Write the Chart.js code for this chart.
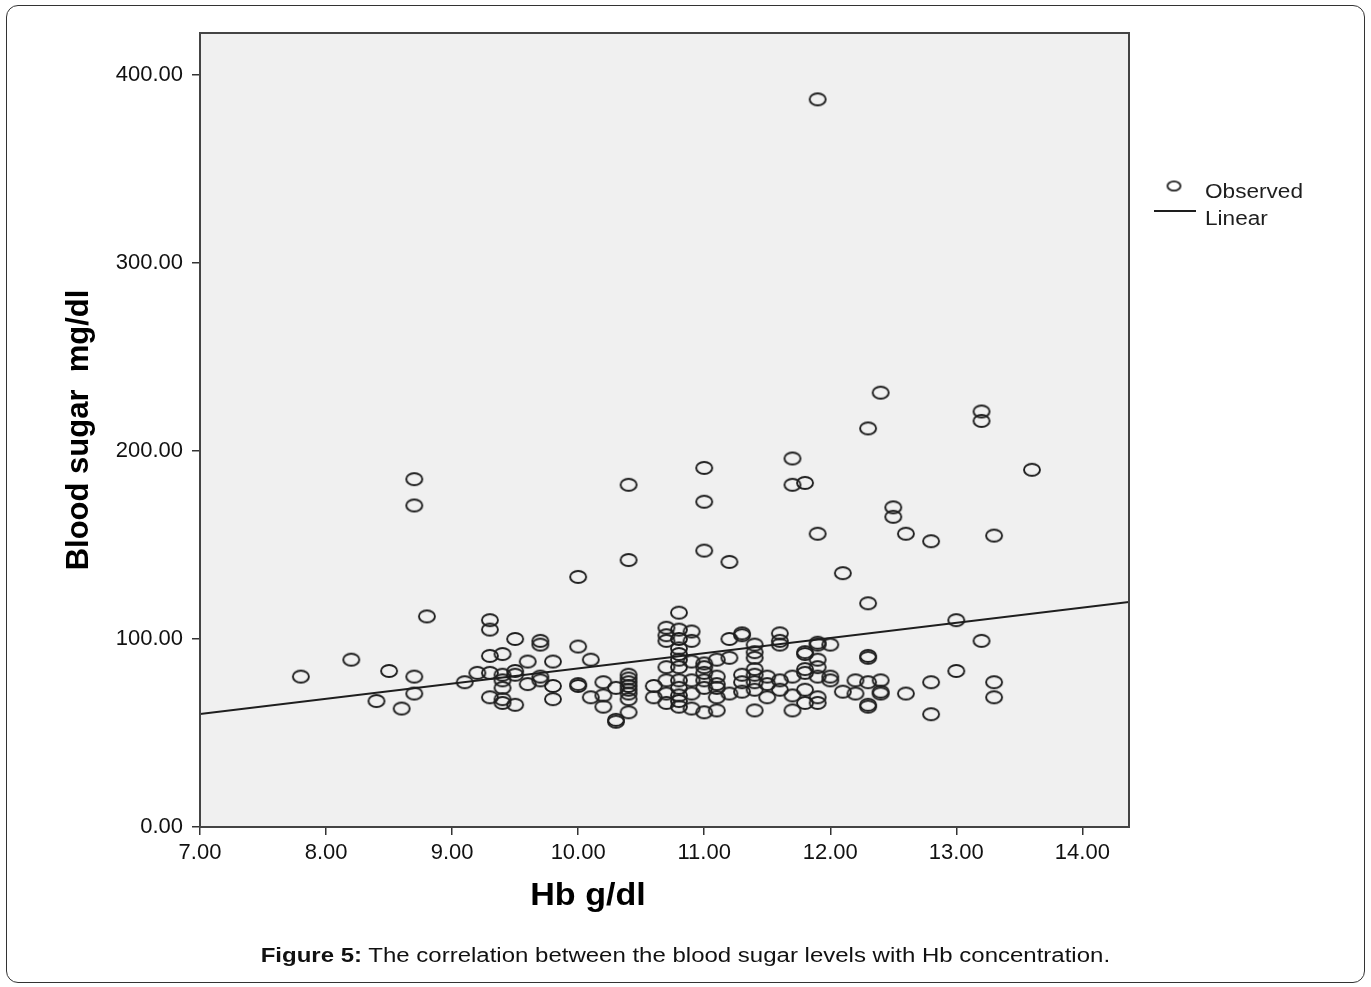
<!DOCTYPE html>
<html>
<head>
<meta charset="utf-8">
<title>Blood sugar vs Hb</title>
<script src="https://cdn.jsdelivr.net/npm/chart.js@4/dist/chart.umd.min.js"></script>
<style>
  html, body { margin: 0; padding: 0; background: #fff; }
  #wrap { position: relative; width: 1371px; height: 987px; }
  #frame {
    position: absolute; left: 6px; top: 5px; width: 1357px; height: 976px;
    border: 1px solid #333; border-radius: 12px; pointer-events: none;
  }
  #chart { position: absolute; left: 0; top: 0; }
  #caption {
    position: absolute; left: 0; top: 944px; width: 1371px; text-align: center;
    font: 20px "Liberation Sans", Arial, sans-serif; color: #111;
    transform: scaleX(1.2); transform-origin: 686px 0;
  }
</style>
</head>
<body>
<div id="wrap">
  <canvas id="chart" width="1371" height="987"></canvas>
  <div id="frame"></div>
  <div id="caption"><b>Figure 5:</b> The correlation between the blood sugar levels with Hb concentration.</div>
</div>
<script>
// Hb (g/dl) and blood sugar (mg/dl) for each subject
const hb = [
  11.9, 12.4, 13.2, 13.2, 12.3, 13.6, 8.7, 8.7, 10.4, 11.0,
  11.0, 11.7, 11.7, 11.8, 12.5, 12.5, 11.9, 12.6, 12.8, 13.3,
  11.0, 11.2, 10.4, 10.0, 12.1, 12.3, 8.8, 9.3, 9.3, 13.0,
  10.8, 13.2,
  7.8, 8.2, 8.5, 8.7, 8.4, 8.7, 8.6, 9.1, 9.2, 9.3,
  9.3, 9.4, 9.5, 9.7, 9.7, 10.0, 9.6, 9.8, 9.4, 9.4,
  9.5, 9.5, 9.7, 9.7, 9.6, 9.8, 10.0, 9.4, 9.3, 9.4,
  9.4, 9.5, 9.8, 10.1, 10.1,
  10.3, 10.2, 10.4, 10.4, 10.4, 10.4, 10.4, 10.4, 10.4, 10.2,
  10.2, 10.3, 10.4, 10.3, 10.0,
  10.6, 10.6, 10.7, 10.7, 10.7, 10.7, 10.8, 10.8, 10.9, 10.9,
  10.8, 10.8, 10.8, 10.7, 10.8, 10.7, 10.8, 10.8, 10.8, 10.8,
  10.9, 10.9, 10.9, 10.9, 10.7, 10.8,
  11.0, 11.0, 11.1, 11.2, 11.2, 11.3, 11.3, 11.4, 11.4, 11.4,
  11.6, 11.6, 11.6, 11.8, 11.9, 11.0, 11.0, 11.0, 11.0, 11.1,
  11.1, 11.1, 11.1, 11.1, 11.2, 11.3, 11.3, 11.3, 11.4, 11.4,
  11.4, 11.4, 11.4, 11.5, 11.5, 11.5, 11.6, 11.6, 11.7, 11.7,
  11.7, 11.8, 11.8, 11.9, 11.9,
  12.3, 12.3, 12.0, 11.9, 11.8, 11.9, 11.8, 12.0, 12.0, 12.2,
  12.4, 12.3, 12.1, 12.2, 12.4, 12.4, 12.3, 12.3, 11.8, 11.9,
  11.9, 12.6, 12.8, 12.8, 13.0, 13.3, 13.3
];
const sugar = [
  387, 231, 221, 216, 212, 190, 185, 171, 182, 191,
  173, 196, 182, 183, 170, 165, 156, 156, 152, 155,
  147, 141, 142, 133, 135, 119, 112, 110, 105, 110,
  114, 99,
  80, 89, 83, 80, 67, 71, 63, 77, 82, 82,
  91, 92, 100, 99, 97, 96, 88, 88, 81, 78,
  83, 81, 80, 78, 76, 75, 75, 74, 69, 68,
  66, 65, 68, 89, 69,
  74, 77, 81, 79, 77, 75, 73, 71, 68, 70,
  64, 56, 61, 57, 76,
  75, 69, 71, 106, 102, 99, 105, 100, 104, 99,
  95, 92, 89, 85, 85, 78, 78, 74, 70, 64,
  88, 78, 71, 63, 66, 67,
  87, 85, 89, 90, 100, 103, 102, 97, 93, 90,
  103, 99, 97, 93, 98, 82, 78, 74, 61, 80,
  76, 74, 62, 69, 71, 81, 77, 72, 84, 81,
  77, 73, 62, 80, 76, 69, 78, 73, 80, 70,
  62, 84, 73, 89, 80,
  91, 90, 97, 97, 92, 85, 82, 80, 78, 78,
  78, 77, 72, 71, 72, 71, 65, 64, 66, 69,
  66, 71, 77, 60, 83, 77, 69
];

// fitted linear model: sugar = INTERCEPT + SLOPE * hb
const INTERCEPT = 3.5;
const SLOPE = 8.08;

const X_MIN = 7, X_MAX = 14.37;
const Y_MIN = 0, Y_MAX = 422.3;

const FONT = '"Liberation Sans", Arial, sans-serif';
const INK = '#1e1e1e';

// open ellipse used as the marker
function ringMarker(rx, ry, lw) {
  const c = document.createElement('canvas');
  c.width = Math.ceil(rx * 2 + lw * 2 + 2);
  c.height = Math.ceil(ry * 2 + lw * 2 + 2);
  const g = c.getContext('2d');
  g.strokeStyle = INK;
  g.lineWidth = lw;
  g.beginPath();
  g.ellipse(c.width / 2, c.height / 2, rx, ry, 0, 0, Math.PI * 2);
  g.stroke();
  return c;
}
const ring = ringMarker(8, 6, 1.9);
const smallRing = ringMarker(6.5, 4.6, 1.8);

const observed = hb.map((h, i) => ({ x: h, y: sugar[i] }));
const fitLine = [X_MIN, X_MAX].map(x => ({ x: x, y: INTERCEPT + SLOPE * x }));

// text drawn slightly wide, like the rest of the figure
function wideText(ctx, text, x, y, sx) {
  ctx.save();
  ctx.translate(x, y);
  ctx.scale(sx, 1);
  ctx.fillText(text, 0, 0);
  ctx.restore();
}

const decorations = {
  id: 'decorations',
  beforeDraw(chart) {
    const { ctx, chartArea: a } = chart;
    ctx.save();
    ctx.fillStyle = '#f0f0f0';
    ctx.fillRect(a.left, a.top, a.right - a.left, a.bottom - a.top);
    ctx.restore();
  },
  afterDraw(chart) {
    const { ctx, chartArea: a } = chart;
    ctx.save();
    // plot frame
    ctx.strokeStyle = '#444';
    ctx.lineWidth = 2;
    ctx.strokeRect(a.left, a.top, a.right - a.left, a.bottom - a.top);

    // x axis title
    ctx.fillStyle = '#000';
    ctx.font = 'bold 31px ' + FONT;
    ctx.textAlign = 'center';
    ctx.textBaseline = 'middle';
    wideText(ctx, 'Hb g/dl', 588, 896, 1.1);

    // legend
    const ds = chart.data.datasets;
    ctx.font = '20px ' + FONT;
    ctx.textAlign = 'left';
    ctx.fillStyle = INK;
    ctx.drawImage(smallRing, 1174 - smallRing.width / 2, 186 - smallRing.height / 2);
    wideText(ctx, ds[0].label, 1205, 192, 1.13);
    ctx.strokeStyle = INK;
    ctx.lineWidth = 2;
    ctx.beginPath();
    ctx.moveTo(1154, 211);
    ctx.lineTo(1196, 211);
    ctx.stroke();
    wideText(ctx, ds[1].label, 1205, 219, 1.13);
    ctx.restore();
  }
};

new Chart(document.getElementById('chart').getContext('2d'), {
  type: 'scatter',
  data: {
    datasets: [
      {
        label: 'Observed',
        data: observed,
        pointStyle: ring,
        pointRadius: 8,
        backgroundColor: 'rgba(0,0,0,0)',
        borderColor: INK
      },
      {
        type: 'line',
        label: 'Linear',
        data: fitLine,
        borderColor: INK,
        borderWidth: 2,
        pointRadius: 0,
        fill: false
      }
    ]
  },
  options: {
    responsive: false,
    animation: false,
    events: [],
    layout: { padding: { left: 0, top: 33, right: 242, bottom: 0 } },
    plugins: { legend: { display: false }, tooltip: { enabled: false } },
    scales: {
      x: {
        type: 'linear',
        min: X_MIN,
        max: X_MAX,
        afterFit(scale) { scale.height = 160; },
        grid: { drawOnChartArea: false, tickLength: 8, color: '#333', lineWidth: 1.5 },
        border: { display: false },
        ticks: {
          stepSize: 1,
          includeBounds: false,
          padding: 5,
          color: '#111',
          font: { family: FONT, size: 22 },
          maxRotation: 0,
          callback: v => v.toFixed(2)
        }
      },
      y: {
        type: 'linear',
        min: Y_MIN,
        max: Y_MAX,
        afterFit(scale) { scale.width = 200; },
        grid: { drawOnChartArea: false, tickLength: 8, color: '#333', lineWidth: 1.5 },
        border: { display: false },
        ticks: {
          stepSize: 100,
          includeBounds: false,
          padding: 9,
          color: '#111',
          font: { family: FONT, size: 22 },
          callback: v => v.toFixed(2)
        },
        title: {
          display: true,
          text: 'Blood sugar  mg/dl',
          color: '#000',
          font: { family: FONT, size: 31, weight: 'bold' },
          padding: { top: 61, bottom: 0 }
        }
      }
    }
  },
  plugins: [decorations]
});
</script>
</body>
</html>
